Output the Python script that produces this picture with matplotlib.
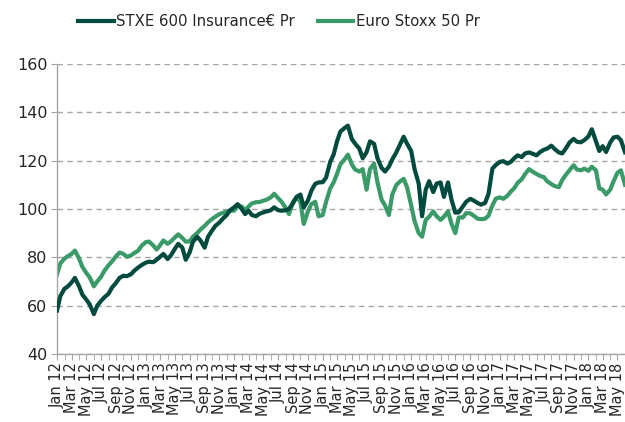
import matplotlib
matplotlib.use("Agg")
import matplotlib.pyplot as plt
import matplotlib.dates as mdates
import pandas as pd

# Semi-monthly observation dates (1st and 15th of each month), Jan 2012 - Jun 2018
start_date = "2012-01-01"
n_points = 155

insurance = [
    58, 64, 67, 68, 69.6, 71.5, 68, 64.5, 62.5, 60.5,
    56.5, 60, 62, 63.5, 65, 67.5, 69.5, 71.5, 72.4, 72.2,
    73, 74.5, 75.8, 76.8, 77.8, 78.2, 78, 79, 80.2, 81.4,
    79.3, 80.8, 83.5, 85.6, 84, 79, 82, 86.5, 88.5, 87,
    84, 88.5, 91, 93, 94.4, 96, 97.5, 99.5, 100.7, 102,
    100, 97.9, 99.3, 97.5, 97, 98, 98.6, 99, 99.5, 100.7,
    99.5, 99.3, 99.5, 100, 102.5, 105, 106, 100.7, 103.5, 107.5,
    110.4, 111, 111.1, 113, 119.5, 122.5, 128, 132, 133.5, 134.5,
    129, 127, 125, 121, 123.5, 128, 127, 121, 117, 115.5,
    117.5, 120.5, 123.5, 126.5, 129.9, 127, 124, 116.5, 110.5, 97,
    108, 111.5, 107, 110.5, 111, 105, 111, 104, 98.5, 98.6,
    101, 103, 104.2, 103.5, 102.5, 101.8, 102.5, 106.3, 116.7, 118.2,
    119.5, 119.8, 118.8, 119.5, 121, 122.2, 121.5, 123, 123.4, 122.9,
    122.2, 123.5, 124.5, 125, 126.2, 124.8, 123.4, 123, 125.2, 127.5,
    129, 127.8, 127.6, 128.5, 130, 133, 128, 124, 126, 123.6,
    127.5, 129.6, 129.9, 128.5, 123.5,
]

eurostoxx = [
    73, 77.5, 79.5, 80.5, 81.4, 82.8, 79.5, 76, 73.5, 71.7,
    68, 70, 72, 74.5, 76.8, 78.3, 80.5, 82, 81.4, 80.2,
    80.8, 81.8, 82.8, 84.8, 86.3, 86.5, 84.9, 83.2, 85, 87,
    85.6, 86.6, 88.2, 89.5, 88, 86.5, 86.6, 88.5, 90, 91.5,
    93, 94.5, 95.8, 96.8, 97.9, 98.4, 98.9, 99.3, 99.3, 101.5,
    101, 99.5, 101, 102.3, 102.8, 102.9, 103.4, 103.9, 104.8, 106.3,
    104.5, 103, 100.5, 97.9, 103, 104.7, 103, 93.8, 99, 102,
    103, 97, 97.5, 103, 108.5, 111, 114.5, 118.5, 120.5, 122.5,
    118.5, 116.3, 115.5, 116.5, 108, 116.5, 118.8, 111, 103.8, 101.5,
    97.5, 106, 110, 111.3, 112.5, 109, 101.5, 95, 90, 88.5,
    95.5, 96.8, 99, 97, 95.5, 96.8, 99, 94, 90, 96.5,
    96.5, 98.3, 98.2, 97.2, 96, 95.8, 96, 97.2, 101.5, 104.3,
    104.8, 104.2, 105.5, 107.2, 108.6, 110.8, 112.3, 114.5, 116.5, 115.5,
    114.5, 113.7, 113.2, 111.5, 110.3, 109.5, 109, 112, 114.3, 116,
    118.1, 116.3, 116, 116.7, 115.8, 117.5, 116, 108.5, 108, 106,
    108, 111.5, 115, 116, 110,
]

series_names = ["STXE 600 Insurance\u20ac Pr", "Euro Stoxx 50 Pr"]
y_ticks = [40, 60, 80, 100, 120, 140, 160]

dates = pd.date_range(start_date, periods=n_points, freq="SMS")

dark = "#004a3e"
light = "#3a9b69"
grey = "#a6a6a6"
text_col = "#262626"

plt.rcParams["font.family"] = ["DejaVu Sans"]

fig = plt.figure(figsize=(6.25, 4.22), dpi=100)
ax = fig.add_axes([57 / 625, 1 - 354 / 422, 1 - 57 / 625, (354 - 64) / 422])

l1, = ax.plot(dates, insurance, color=dark, lw=3.0, solid_joinstyle="round", zorder=3)
l2, = ax.plot(dates, eurostoxx, color=light, lw=3.0, solid_joinstyle="round", zorder=2)

ax.set_ylim(40, 160)
ax.set_yticks(y_ticks)
ax.set_xlim(pd.Timestamp("2012-01-01"), pd.Timestamp("2018-06-01"))

ax.xaxis.set_major_locator(mdates.MonthLocator(bymonth=[1, 3, 5, 7, 9, 11]))
ax.xaxis.set_minor_locator(mdates.MonthLocator())
ax.xaxis.set_major_formatter(mdates.DateFormatter("%b %y"))

ax.grid(axis="y", color=grey, linestyle=(0, (4, 3)), linewidth=1.0)
ax.set_axisbelow(True)

for s in ["top", "right"]:
    ax.spines[s].set_visible(False)
for s in ["left", "bottom"]:
    ax.spines[s].set_color(grey)
    ax.spines[s].set_linewidth(1.0)

ax.tick_params(axis="y", which="major", length=4, color=grey, labelsize=11.5,
               labelcolor=text_col, pad=3)
ax.tick_params(axis="x", which="both", length=4, color=grey, labelsize=10.5,
               labelcolor=text_col, pad=2)
for lab in ax.get_xticklabels():
    lab.set_rotation(90)
    lab.set_ha("center")

fig.legend([l1, l2], series_names, loc="center", bbox_to_anchor=(0.446, 0.948),
           ncol=2, frameon=False, fontsize=10.7, handlelength=2.4,
           handletextpad=0.15, columnspacing=1.55, labelcolor=text_col)

fig.savefig("out.png", dpi=100)
